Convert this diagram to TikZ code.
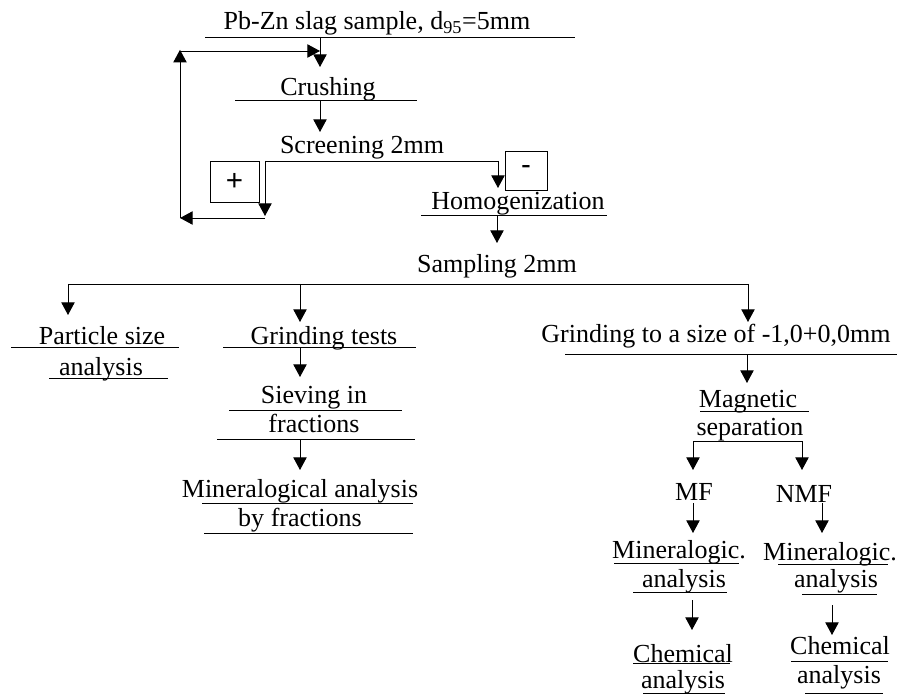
\documentclass[tikz,border=0pt]{standalone}
\usepackage{fontspec}
\setmainfont{Liberation Serif}
\setsansfont{Liberation Sans}
\usetikzlibrary{arrows.meta}
\tikzset{
    lbl/.style={anchor=base,inner sep=0pt,font=\fontsize{18.5}{22}\selectfont},
    flow/.style={-{Triangle[width=9.5pt,length=9pt]},line width=0.7pt},
    uline/.style={line width=0.7pt},
    signbox/.style={draw,line width=0.7pt,inner sep=0pt,font=\sffamily\fontsize{21}{24}\selectfont}
}

\begin{document}
\begin{tikzpicture}[x=0.025cm,y=-0.025cm]
    \useasboundingbox (0,0) rectangle (901,695);
    % texts
    \node [lbl] (slag) at (377,30) {Pb-Zn slag sample, d\textsubscript{95}=5mm};
    \node [lbl] (crush) at (328,96) {Crushing};
    \node [lbl] (screen) at (362,154) {Screening 2mm};
    \node [lbl] (homog) at (518,210) {Homogenization};
    \node [lbl] (sampl) at (497,273) {Sampling 2mm};
    \node [lbl] (psize) at (102,345) {Particle size};
    \node [lbl] (psize2) at (101,375) {analysis};
    \node [lbl] (gtest) at (324,345) {Grinding tests};
    \node [lbl] (sieve) at (314,403) {Sieving in};
    \node [lbl] (sieve2) at (314,432) {fractions};
    \node [lbl] (minfr) at (300,497) {Mineralogical analysis};
    \node [lbl] (minfr2) at (300,526) {by fractions};
    \node [lbl] (gsize) at (716,342) {Grinding to a size of -1,0+0,0mm};
    \node [lbl] (magn) at (748,407) {Magnetic};
    \node [lbl] (magn2) at (750,435) {separation};
    \node [lbl] (mf) at (694,500) {MF};
    \node [lbl] (nmf) at (804,502) {NMF};
    \node [lbl] (minl) at (679,558) {Mineralogic.};
    \node [lbl] (minl2) at (684,587) {analysis};
    \node [lbl] (minr) at (830,560) {Mineralogic.};
    \node [lbl] (minr2) at (836,587) {analysis};
    \node [lbl] (cheml) at (683,662) {Chemical};
    \node [lbl] (cheml2) at (683,688) {analysis};
    \node [lbl] (chemr) at (840,654) {Chemical};
    \node [lbl] (chemr2) at (839,683) {analysis};
    \node [signbox,minimum width=1.225cm,minimum height=1.025cm] (plus) at (234.5,181.5) {+};
    \node [signbox,minimum width=1.05cm,minimum height=0.975cm] (minus) at (526,170.5) {-};
    % underlines
    \foreach \a/\b/\y in {205/575/37,235/417/100,421/607/215,11/179/347,49/168/378,
        223/416/347,229/402/410,217/415/439,202/413/503,204/413/533,565/897/354,
        700/809/411,614/739/563,633/727/592,778/888/564,802/877/594,
        633/730/663,643/725/693,791/888/661,805/883/693} {
        \draw [uline] (\a,\y) -- (\b,\y);
    }
    % connector points
    \coordinate (c0) at (320,37);
    \coordinate (c1) at (320,67);
    \coordinate (c2) at (320,100);
    \coordinate (c3) at (320,132);
    \coordinate (sl) at (265,161);
    \coordinate (sr) at (498,161);
    \coordinate (rbl) at (265,218);
    \coordinate (lbl) at (180,218);
    \coordinate (ltl) at (180,51);
    \coordinate (h0) at (498,188);
    \coordinate (h1) at (497,215);
    \coordinate (h2) at (497,243);
    \coordinate (bl) at (68,284);
    \coordinate (bm) at (300,284);
    \coordinate (br) at (748,284);
    \coordinate (g0) at (300,347);
    \coordinate (g1) at (300,377);
    \coordinate (s0) at (300,439);
    \coordinate (s1) at (300,470);
    \coordinate (z0) at (747,354);
    \coordinate (z1) at (747,383);
    \coordinate (ml) at (693,441);
    \coordinate (mr) at (802,441);
    % connectors
    \draw [flow] (c0) -- (c1);
    \draw [flow] (c2) -- (c3);
    \draw [uline] (sl) -- (sr);
    \draw [flow] (sl) -- ([yshift=0.05cm]rbl);
    \draw [flow] (rbl) -- (lbl);
    \draw [flow] (lbl) -- ([yshift=0.03cm]ltl);
    \draw [flow] (ltl) -- (c0 |- ltl);
    \draw [flow] (sr) -- (h0);
    \draw [flow] (h1) -- (h2);
    \draw [uline] (bl) -- (br);
    \draw [flow] (bl) -- ++(0,31);
    \draw [flow] (bm) -- ++(0,38);
    \draw [flow] (br) -- ++(0,38);
    \draw [flow] (g0) -- (g1);
    \draw [flow] (s0) -- (s1);
    \draw [flow] (z0) -- (z1);
    \draw [uline] (ml) -- (mr);
    \draw [flow] (ml) -- ++(0,29);
    \draw [flow] (mr) -- ++(0,29);
    \draw [flow] (693,503) -- (693,533);
    \draw [flow] (822,503) -- (822,533);
    \draw [flow] (692,600) -- (692,630);
    \draw [flow] (832,605) -- (832,635);
\end{tikzpicture}
\end{document}
